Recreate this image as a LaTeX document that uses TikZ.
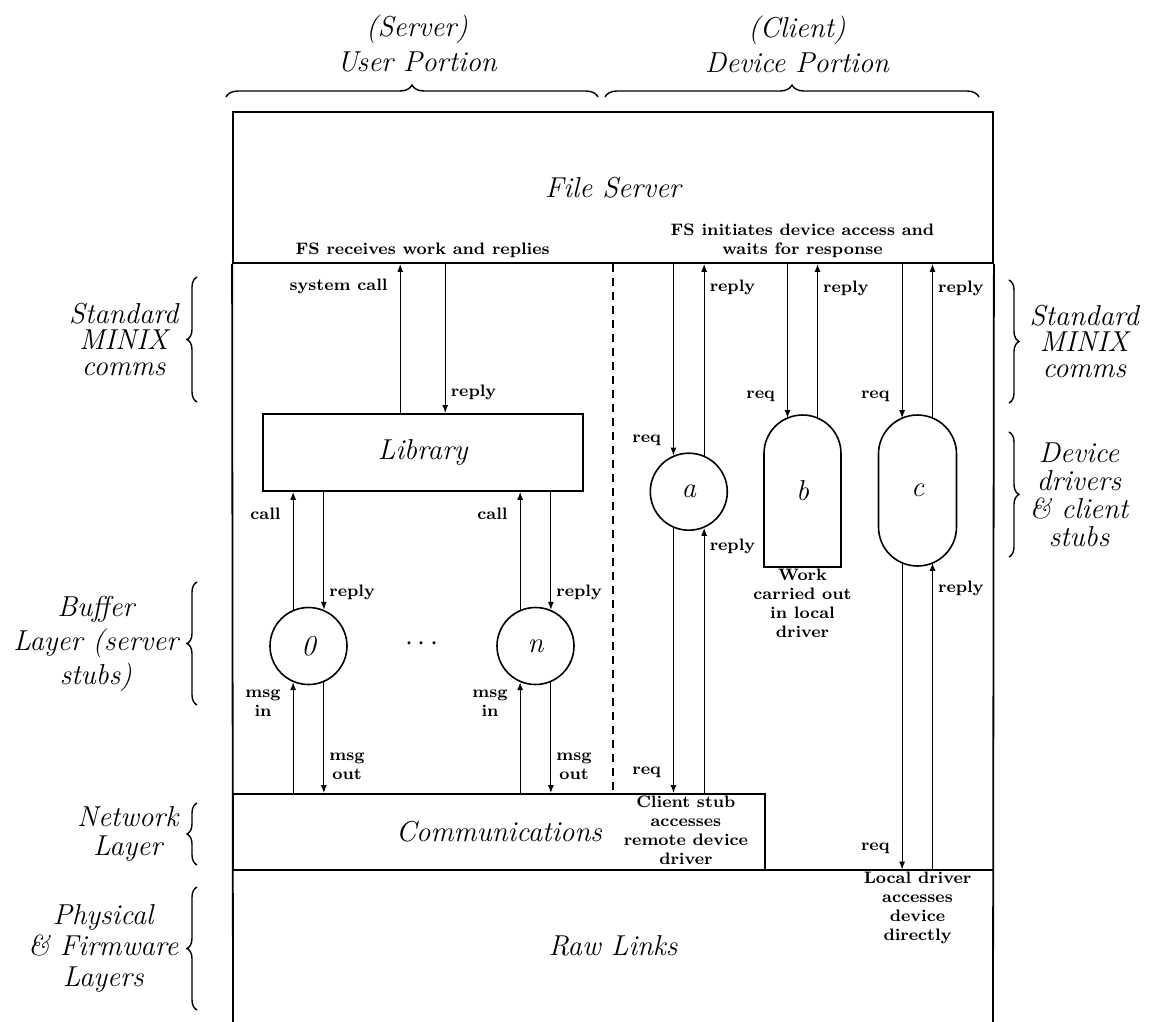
\documentclass[tikz,border=0pt]{standalone}
\usepackage{tikz}
\usetikzlibrary{arrows.meta,positioning,calc,decorations.pathreplacing}
\tikzset{>=Latex,
  frame/.style={line width=0.9pt},
  arr/.style={-{Latex[length=4pt,width=3pt]},line width=0.6pt},
  lbl/.style={font=\fontsize{8.3}{9.5}\selectfont\bfseries,inner sep=1pt,align=center},
  big/.style={font=\fontsize{14.4}{17}\selectfont\itshape},
  layerbox/.style={draw,line width=0.9pt,big},
  unit/.style={circle,draw,line width=0.8pt,minimum size=38.5pt,inner sep=0pt,big},
  drvbox/.style={big,inner sep=0pt,outer sep=0pt},
  brc/.style={decorate,decoration={brace,amplitude=5pt},line width=0.7pt},
  side/.style={font=\fontsize{14.4}{#1}\selectfont\itshape,align=center,inner sep=1pt},
  side/.default=14pt}

\begin{document}
\begin{tikzpicture}[x=0.5pt,y=-0.5pt]
\useasboundingbox (0,0) rectangle (1151,1022);
% portions on top
\node[side=17.5pt] (user) at (417,44) {(Server)\\User Portion};
\node[side=17.5pt] (device) at (797,44) {(Client)\\Device Portion};
\draw[brc,decoration={amplitude=6pt}] (226,97) -- (598,97);
\draw[brc,decoration={amplitude=6pt}] (605,97) -- (979,97);
% layers
\node[layerbox,minimum width=380pt,minimum height=75.5pt] (fs) at (613,187.5) {File Server};
\coordinate (bl) at (233,1022);
\coordinate (bri) at (993,1022);
\draw[frame] (fs.south west) -- (bl);
\draw[frame] (fs.south east) -- (bri);
\node[layerbox,minimum width=266pt,minimum height=38pt] (comms) at (499,832) {Communications};
\node[big,minimum width=380pt,minimum height=76pt,inner sep=0pt] (raw) at (613,946) {Raw Links};
\draw[frame] (raw.north west) -- (raw.north east);
\draw[line width=0.6pt,dash pattern=on 4pt off 3pt] (fs.south) -- (fs.south |- comms.north);
\node[layerbox,minimum width=160pt,minimum height=38.5pt] (lib) at (422.7,452.4) {Library};
% server stubs and drivers
\node[unit] (c0) at (308.5,646) {0};
\node[big] (dots) at (422,644) {$\cdots$};
\node[unit] (cn) at (535.5,646) {n};
\node[unit] (a) at (688.8,491.7) {a};
\node[drvbox,minimum width=38.5pt,minimum height=76pt] (b) at (802.5,491) {b};
\node[drvbox,minimum width=39pt,minimum height=75.5pt] (c) at (917.5,490.5) {c};
\draw[line width=0.8pt] (b.south west) -- ([yshift=-19.25pt]b.north west)
  arc[start angle=180,end angle=0,radius=19.25pt] -- (b.south east) -- cycle;
\draw[line width=0.8pt,rounded corners=19.5pt] (c.south west) rectangle (c.north east);
% attach points
\coordinate (lq) at ([xshift=-11.25pt]lib.north);
\coordinate (lr) at ([xshift=11.25pt]lib.north);
\coordinate (bq) at ([xshift=-7.5pt,yshift=-1.5pt]b.north);
\coordinate (brp) at ([xshift=7.5pt,yshift=-1.5pt]b.north);
\coordinate (cq) at ([xshift=-7.7pt,yshift=-1.6pt]c.north);
\coordinate (crp) at ([xshift=7.5pt,yshift=-1.6pt]c.north);
\coordinate (cq2) at ([xshift=-7.7pt,yshift=1.6pt]c.south);
\coordinate (crp2) at ([xshift=7.5pt,yshift=1.6pt]c.south);
% user side
\draw[arr] (lq) -- (lq |- fs.south) node[lbl,pos=.85,left=5pt] {system call};
\draw[arr] (lr |- fs.south) -- (lr) node[lbl,pos=.86,right=1.5pt] {reply};
\foreach \u in {c0,cn} {
  \draw[arr] (\u.113) -- (\u.113 |- lib.south) node[lbl,pos=.81,left=5pt] {call};
  \draw[arr] (\u.67 |- lib.south) -- (\u.67) node[lbl,pos=.85,right=1.5pt] {reply};
  \draw[arr] (\u.247 |- comms.north) -- (\u.247) node[lbl,pos=.81,left=5pt] {msg\\in};
  \draw[arr] (\u.293) -- (\u.293 |- comms.north) node[lbl,pos=.76,right=1.5pt] {msg\\out};
}
% device side
\draw[arr] (a.113 |- fs.south) -- (a.113) node[lbl,pos=.92,left=5pt] {req};
\draw[arr] (a.67) -- (a.67 |- fs.south) node[lbl,pos=.876,right=1.5pt] {reply};
\draw[arr] (a.247) -- (a.247 |- comms.north) node[lbl,pos=.92,left=5pt] {req};
\draw[arr] (a.293 |- comms.north) -- (a.293) node[lbl,pos=.93,right=1.5pt] {reply};
\draw[arr] (bq |- fs.south) -- (bq) node[lbl,pos=.86,left=5pt] {req};
\draw[arr] (brp) -- (brp |- fs.south) node[lbl,pos=.84,right=1.5pt] {reply};
\draw[arr] (cq |- fs.south) -- (cq) node[lbl,pos=.86,left=5pt] {req};
\draw[arr] (crp) -- (crp |- fs.south) node[lbl,pos=.84,right=1.5pt] {reply};
\draw[arr] (cq2) -- (cq2 |- raw.north) node[lbl,pos=.93,left=5pt] {req};
\draw[arr] (crp2 |- raw.north) -- (crp2) node[lbl,pos=.917,right=1.5pt] {reply};
% notes
\node[lbl,anchor=south,yshift=2pt] (fsl) at (lib.north |- fs.south) {FS receives work and replies};
\node[lbl,anchor=south,yshift=2pt] (fsr) at (b.north |- fs.south) {FS initiates device access and\\waits for response};
\node[lbl,anchor=north] (work) at (b.south) {Work\\carried out\\in local\\driver};
\node[lbl,anchor=north] (stub) at ([xshift=-40pt]comms.north east) {Client stub\\accesses\\remote device\\driver};
\node[lbl,anchor=north] (local) at (c.south |- raw.north) {Local driver\\accesses\\device\\directly};
% side braces
\draw[brc] (197,402) -- (197,277) node[side=13.2pt,midway,left=8pt] {Standard\\MINIX\\comms};
\draw[brc] (197,705) -- (197,582) node[side=17pt,midway,left=8pt] {Buffer\\Layer (server\\stubs)};
\draw[brc] (197,865) -- (197,803) node[side=14.5pt,midway,left=8pt] {Network\\Layer};
\draw[brc] (197,1010) -- (197,887) node[side=15.5pt,midway,left=8pt] {Physical\\\& Firmware\\Layers};
\draw[brc] (1009,280) -- (1009,403) node[side=13.2pt,midway,right=9pt] {Standard\\MINIX\\comms};
\draw[brc] (1009,432) -- (1009,557) node[side=14pt,midway,right=9pt] {Device\\drivers\\\& client\\stubs};
\end{tikzpicture}
\end{document}
